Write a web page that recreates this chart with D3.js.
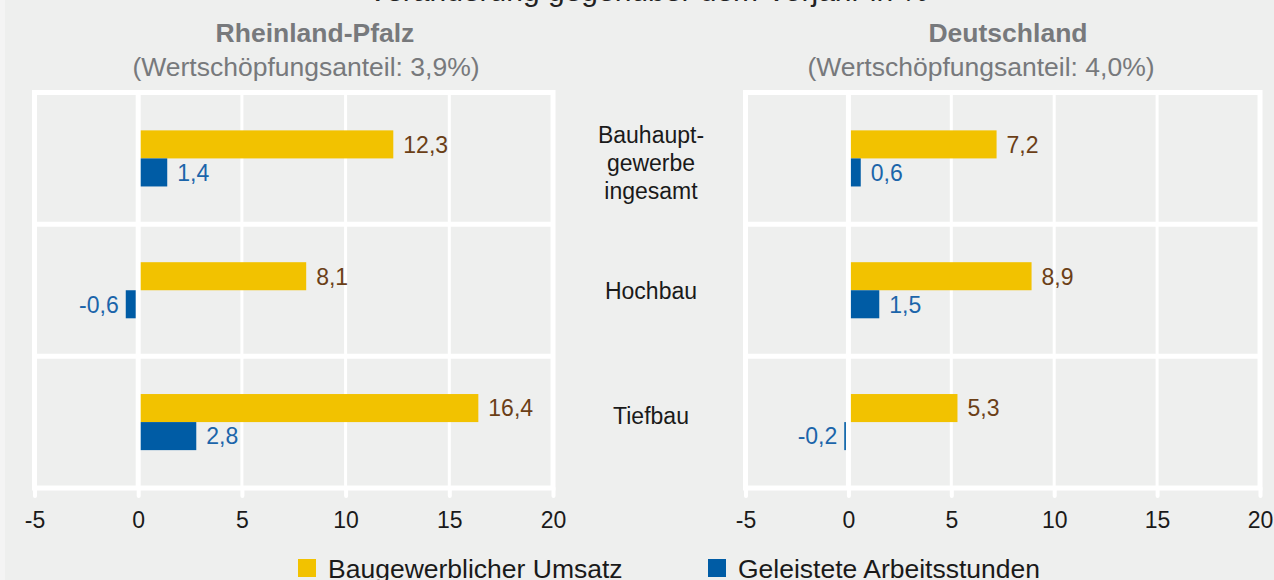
<!DOCTYPE html>
<html>
<head>
<meta charset="utf-8">
<script src="https://cdn.jsdelivr.net/npm/d3@7"></script>
<style>
  body { margin: 0; background: #eeefee; }
  svg { display: block; font-family: "Liberation Sans", Arial, sans-serif; }
</style>
</head>
<body>
<div id="chart"></div>
<script>
// Data
const categories = ["Bauhauptgewerbe ingesamt", "Hochbau", "Tiefbau"];
const categoryLines = [["Bauhaupt-", "gewerbe", "ingesamt"], ["Hochbau"], ["Tiefbau"]];
const series = ["Baugewerblicher Umsatz", "Geleistete Arbeitsstunden"];
const umsatzRP = [12.3, 8.1, 16.4];
const stundenRP = [1.4, -0.6, 2.8];
const umsatzDE = [7.2, 8.9, 5.3];
const stundenDE = [0.6, 1.5, -0.2];
const tickValues = [-5, 0, 5, 10, 15, 20];
const panelTitles = ["Rheinland-Pfalz", "Deutschland"];
const panelSubtitles = ["(Wertschöpfungsanteil: 3,9%)", "(Wertschöpfungsanteil: 4,0%)"];
const chartTitle = "Veränderung gegenüber dem Vorjahr in %";

const colors = { bar: ["#f2c200", "#005ca5"], label: ["#6b3f17", "#1b65aa"] };
const fmt = v => String(v.toFixed(1)).replace(".", ",");

const W = 1274, H = 580;
const plotTop = 92.5, plotBottom = 488;

const svg = d3.select("#chart").append("svg")
  .attr("width", W).attr("height", H);

svg.append("rect").attr("width", W).attr("height", H).attr("fill", "#eeefee");
svg.append("rect").attr("width", 5).attr("height", H).attr("fill", "#f4f4f4");

// title (cut off at the top)
svg.append("text")
  .attr("x", 648).attr("y", 1)
  .attr("text-anchor", "middle")
  .style("font-size", "30px").style("fill", "#222")
  .text(chartTitle);

let y = d3.scaleBand().domain(categories).range([plotTop, plotBottom]).padding(0);
let ySub = d3.scaleBand().domain(series).range([0, y.bandwidth()])
  .paddingInner(0).paddingOuter(1.35);

const panels = [
  { x0: 34.5, x1: 553, titleX: 315, subX: 306, data: [umsatzRP, stundenRP] },
  { x0: 745.5, x1: 1260, titleX: 1008, subX: 981, data: [umsatzDE, stundenDE] }
];

panels.forEach((p, pi) => {
  let x = d3.scaleLinear().domain([-5, 20]).range([p.x0, p.x1]);
  let g = svg.append("g");

  // panel titles
  g.append("text")
    .attr("x", p.titleX).attr("y", 42)
    .attr("text-anchor", "middle")
    .style("font-size", "26.5px").style("font-weight", "bold").style("fill", "#77797c")
    .text(panelTitles[pi]);
  g.append("text")
    .attr("x", p.subX).attr("y", 76)
    .attr("text-anchor", "middle")
    .style("font-size", "26.5px").style("fill", "#77797c")
    .text(panelSubtitles[pi]);

  // vertical grid (behind bars)
  g.append("g").selectAll("line")
    .data(tickValues.filter(t => t !== 0 && t !== -5 && t !== 20))
    .enter().append("line")
    .attr("x1", d => x(d)).attr("x2", d => x(d))
    .attr("y1", plotTop).attr("y2", plotBottom)
    .attr("stroke", "#fff").attr("stroke-width", 3);

  // bars
  series.forEach((s, si) => {
    let vals = p.data[si];
    g.append("g").selectAll("rect")
      .data(categories)
      .enter().append("rect")
      .attr("x", (d, i) => x(Math.min(0, vals[i])))
      .attr("width", (d, i) => Math.abs(x(vals[i]) - x(0)))
      .attr("y", d => y(d) + ySub(s))
      .attr("height", ySub.bandwidth())
      .attr("fill", colors.bar[si]);

    g.append("g").selectAll("text")
      .data(categories)
      .enter().append("text")
      .attr("x", (d, i) => vals[i] >= 0 ? x(vals[i]) + 10 : x(vals[i]) - 7)
      .attr("y", d => y(d) + ySub(s) + ySub.bandwidth() / 2)
      .attr("dy", "0.36em")
      .attr("text-anchor", (d, i) => vals[i] >= 0 ? "start" : "end")
      .style("font-size", "23px").style("fill", colors.label[si])
      .text((d, i) => fmt(vals[i]));
  });

  // zero line, borders and category separators on top
  g.append("line")
    .attr("x1", x(0)).attr("x2", x(0)).attr("y1", plotTop).attr("y2", plotBottom)
    .attr("stroke", "#fff").attr("stroke-width", 5);
  g.append("g").selectAll("line")
    .data(categories.slice(1))
    .enter().append("line")
    .attr("x1", p.x0).attr("x2", p.x1)
    .attr("y1", d => y(d)).attr("y2", d => y(d))
    .attr("stroke", "#fff").attr("stroke-width", 5);
  g.append("rect")
    .attr("x", p.x0).attr("y", plotTop)
    .attr("width", p.x1 - p.x0).attr("height", plotBottom - plotTop)
    .attr("fill", "none").attr("stroke", "#fff").attr("stroke-width", 5);

  // x axis
  let axis = g.append("g")
    .attr("transform", "translate(0," + plotBottom + ")")
    .call(d3.axisBottom(x).tickValues(tickValues).tickSize(8).tickPadding(16)
      .tickFormat(d => String(d)));
  axis.select(".domain").remove();
  axis.selectAll("line")
    .attr("stroke", "#fff").attr("stroke-width", 4).attr("stroke-linecap", "round");
  axis.selectAll("text")
    .style("font-size", "23px").style("fill", "#1a1a1a")
    .style("font-family", "'Liberation Sans', Arial, sans-serif");
});

// category labels between the panels
const labelShift = [4, 0, -6];
categories.forEach((c, i) => {
  let lines = categoryLines[i];
  let cy = y(c) + y.bandwidth() / 2 + labelShift[i];
  let t = svg.append("text")
    .attr("text-anchor", "middle")
    .style("font-size", "23px").style("fill", "#1a1a1a");
  lines.forEach((l, li) => {
    t.append("tspan")
      .attr("x", 651)
      .attr("y", cy + (li - (lines.length - 1) / 2) * 28)
      .attr("dy", "0.36em")
      .text(l);
  });
});

// legend
let legend = svg.append("g");
const legendX = [298, 708];
series.forEach((s, si) => {
  legend.append("rect")
    .attr("x", legendX[si]).attr("y", 559)
    .attr("width", 18).attr("height", 18)
    .attr("fill", colors.bar[si]);
  legend.append("text")
    .attr("x", legendX[si] + 30).attr("y", 568)
    .attr("dy", "0.36em")
    .style("font-size", "26.5px").style("fill", "#1a1a1a")
    .text(s);
});
</script>
</body>
</html>
